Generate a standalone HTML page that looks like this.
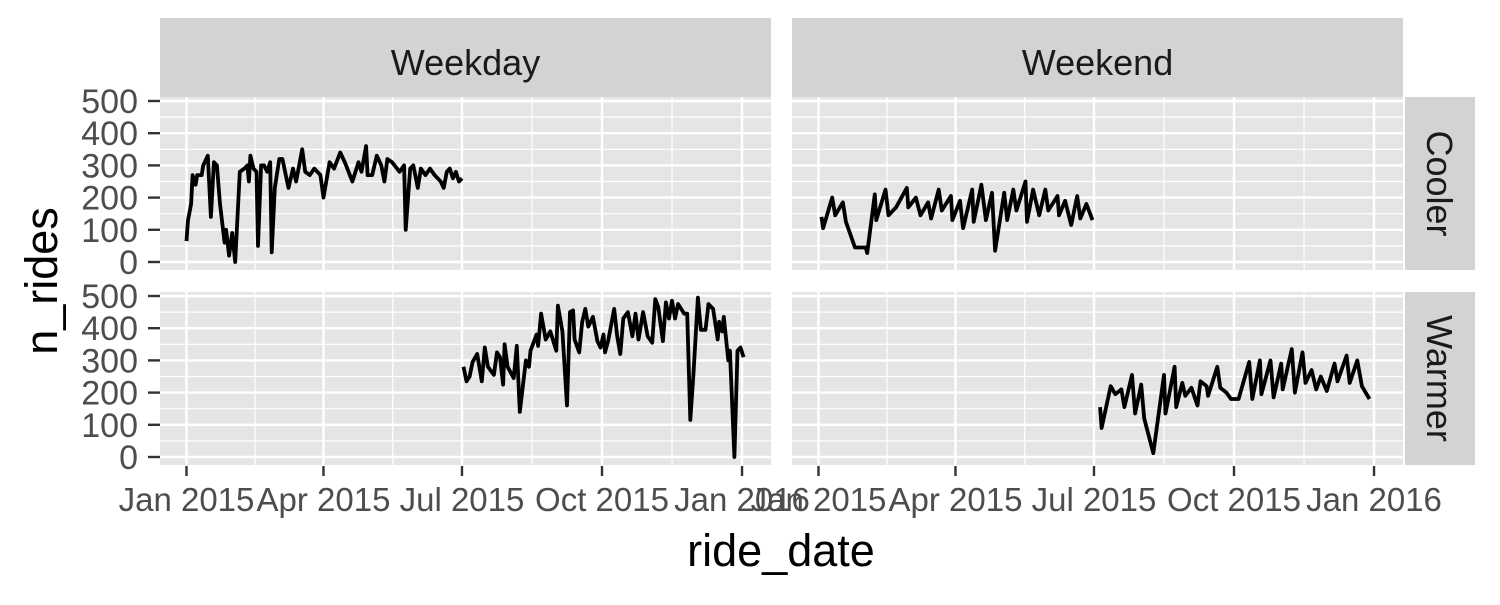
<!DOCTYPE html>
<html><head><meta charset="utf-8"><style>
body{margin:0;background:#fff;}
svg text{font-family:"Liberation Sans",Arial,sans-serif;}
</style></head><body>
<svg id="chart" width="1500" height="600" xmlns="http://www.w3.org/2000/svg"></svg>
<script>
const xTickDays=[0,90,181,273,365];
const xTickLabels=["Jan 2015","Apr 2015","Jul 2015","Oct 2015","Jan 2016"];
const yTicks=[0,100,200,300,400,500];
const colFacets=["Weekday","Weekend"];
const rowFacets=["Cooler","Warmer"];
const wdCoolDays=[0,1,3,4,6,7,10,11,14,16,18,20,22,25,26,28,30,32,35,38,40,41,42,44,46,47,49,51,53,55,56,58,61,63,67,70,72,76,78,81,84,88,90,94,97,101,104,109,113,115,118,119,122,125,128,130,132,135,140,143,144,147,149,152,154,157,160,163,167,169,171,173,175,177,179,181];
const wdCoolVals=[65,130,180,270,240,270,270,300,330,140,310,300,180,60,100,20,90,0,280,290,300,250,330,290,280,50,300,300,280,310,30,230,320,320,230,290,250,350,280,270,290,270,200,310,290,340,310,250,310,280,360,270,270,330,300,250,320,310,280,300,100,290,300,230,290,270,290,270,250,230,280,290,260,280,250,260];
const wdWarmDays=[182,184,186,188,191,194,196,198,202,204,206,208,209,211,215,217,219,223,225,226,230,231,233,236,239,243,244,247,250,252,254,255,258,260,262,264,267,270,272,274,275,277,281,283,285,287,290,293,295,297,300,303,306,308,310,313,315,317,319,321,323,327,329,331,333,336,338,341,343,346,349,350,352,353,356,357,360,362,364,366];
const wdWarmVals=[280,235,250,295,320,235,340,280,255,325,310,225,350,280,245,345,140,300,280,330,380,345,445,365,390,330,470,390,160,450,455,365,325,420,460,405,435,360,340,380,325,360,460,375,320,430,450,375,445,365,450,375,355,490,465,360,480,430,485,430,475,445,445,115,250,495,395,395,475,460,365,420,390,435,300,330,0,330,340,310];
const weCoolDays=[2,3,9,11,16,18,24,31,32,37,38,44,46,51,58,59,64,67,72,74,79,81,87,88,93,95,101,102,107,110,114,116,122,124,128,130,136,137,141,145,149,151,157,158,162,166,170,172,176,180];
const weCoolVals=[140,105,200,145,185,125,45,45,28,210,130,225,145,170,230,170,200,145,185,135,225,160,205,130,190,105,225,125,240,130,215,35,215,130,225,160,250,125,225,145,225,160,205,145,190,115,205,135,180,130];
const weWarmDays=[185,186,192,195,199,201,206,208,212,214,220,227,228,234,235,239,241,245,249,251,255,256,262,264,268,271,276,283,285,290,291,297,299,304,305,311,313,318,320,324,327,330,334,339,341,347,349,354,357,362];
const weWarmVals=[155,90,220,195,210,155,255,135,225,120,12,255,135,280,155,230,190,215,160,235,220,190,280,215,200,180,180,295,180,300,195,300,185,290,210,335,200,325,230,270,210,250,205,290,235,315,230,300,220,180];

const NS="http://www.w3.org/2000/svg";
const svg=document.getElementById('chart');
function el(tag,attrs,parent){const e=document.createElementNS(NS,tag);for(const k in attrs)e.setAttribute(k,attrs[k]);(parent||svg).appendChild(e);return e;}
const colX=[160,792], panelW=611, rowY=[97,292], panelH=173;
const dayScale=1.522, dayOff=26.5;
function xPos(c,d){return colX[c]+dayOff+d*dayScale;}
function yPos(r,v){return rowY[r]+165-v*0.322;}
const series=[[[wdCoolDays,wdCoolVals],[weCoolDays,weCoolVals]],[[wdWarmDays,wdWarmVals],[weWarmDays,weWarmVals]]];
const minorDays=[45,135.5,227,319];
for(let r=0;r<2;r++)for(let c=0;c<2;c++){
  const g=el('g',{});
  
  
  el('rect',{x:colX[c],y:rowY[r],width:panelW,height:panelH,fill:'#e5e5e5'},g);
  for(let v=50;v<=450;v+=100)el('line',{x1:colX[c],x2:colX[c]+panelW,y1:yPos(r,v),y2:yPos(r,v),stroke:'#fff','stroke-width':1.2},g);
  minorDays.forEach(d=>el('line',{x1:xPos(c,d),x2:xPos(c,d),y1:rowY[r],y2:rowY[r]+panelH,stroke:'#fff','stroke-width':1.2},g));
  yTicks.forEach(v=>el('line',{x1:colX[c],x2:colX[c]+panelW,y1:yPos(r,v),y2:yPos(r,v),stroke:'#fff','stroke-width':2.4},g));
  xTickDays.forEach(d=>el('line',{x1:xPos(c,d),x2:xPos(c,d),y1:rowY[r],y2:rowY[r]+panelH,stroke:'#fff','stroke-width':2.4},g));
  const [ds,vs]=series[r][c];
  const pts=ds.map((d,i)=>xPos(c,d).toFixed(1)+','+yPos(r,vs[i]).toFixed(1)).join(' ');
  const pl=el('polyline',{points:pts,fill:'none',stroke:'#000','stroke-width':3.8,'stroke-linejoin':'round'},g);
  
  
}
colFacets.forEach((f,c)=>{
  const s=el('g',{});
  
  
  el('rect',{x:colX[c],y:18,width:panelW,height:79,fill:'#d3d3d3'},s);
  const t=el('text',{x:colX[c]+panelW/2,y:75,'text-anchor':'middle','font-size':36,fill:'#1a1a1a'},s);t.textContent=f;
});
rowFacets.forEach((f,r)=>{
  const s=el('g',{});
  
  
  el('rect',{x:1405,y:rowY[r],width:70,height:panelH,fill:'#d3d3d3'},s);
  const cy=rowY[r]+panelH/2;
  const t=el('text',{x:1440,y:cy,'text-anchor':'middle','font-size':36,fill:'#1a1a1a',transform:`rotate(90 1440 ${cy})`,dy:13},s);t.textContent=f;
});
for(let r=0;r<2;r++){
  yTicks.forEach(v=>{
    el('line',{x1:148,x2:160,y1:yPos(r,v),y2:yPos(r,v),stroke:'#333','stroke-width':2.4});
    const t=el('text',{x:138,y:yPos(r,v)+12,'text-anchor':'end','font-size':34,fill:'#4d4d4d'});
    
    
    t.textContent=v;
  });
}
for(let c=0;c<2;c++){
  xTickDays.forEach((d,i)=>{
    el('line',{x1:xPos(c,d),x2:xPos(c,d),y1:466,y2:476,stroke:'#333','stroke-width':2.4});
    const t=el('text',{x:xPos(c,d),y:511,'text-anchor':'middle','font-size':33,fill:'#4d4d4d'});
    
    
    t.textContent=xTickLabels[i];
  });
}
const xt=el('text',{x:781,y:566,'text-anchor':'middle','font-size':45,fill:'#000'});


xt.textContent='ride_date';
const yt=el('text',{x:57,y:281,'text-anchor':'middle','font-size':45,fill:'#000',transform:'rotate(-90 57 281)'});


yt.textContent='n_rides';
</script>
</body></html>
